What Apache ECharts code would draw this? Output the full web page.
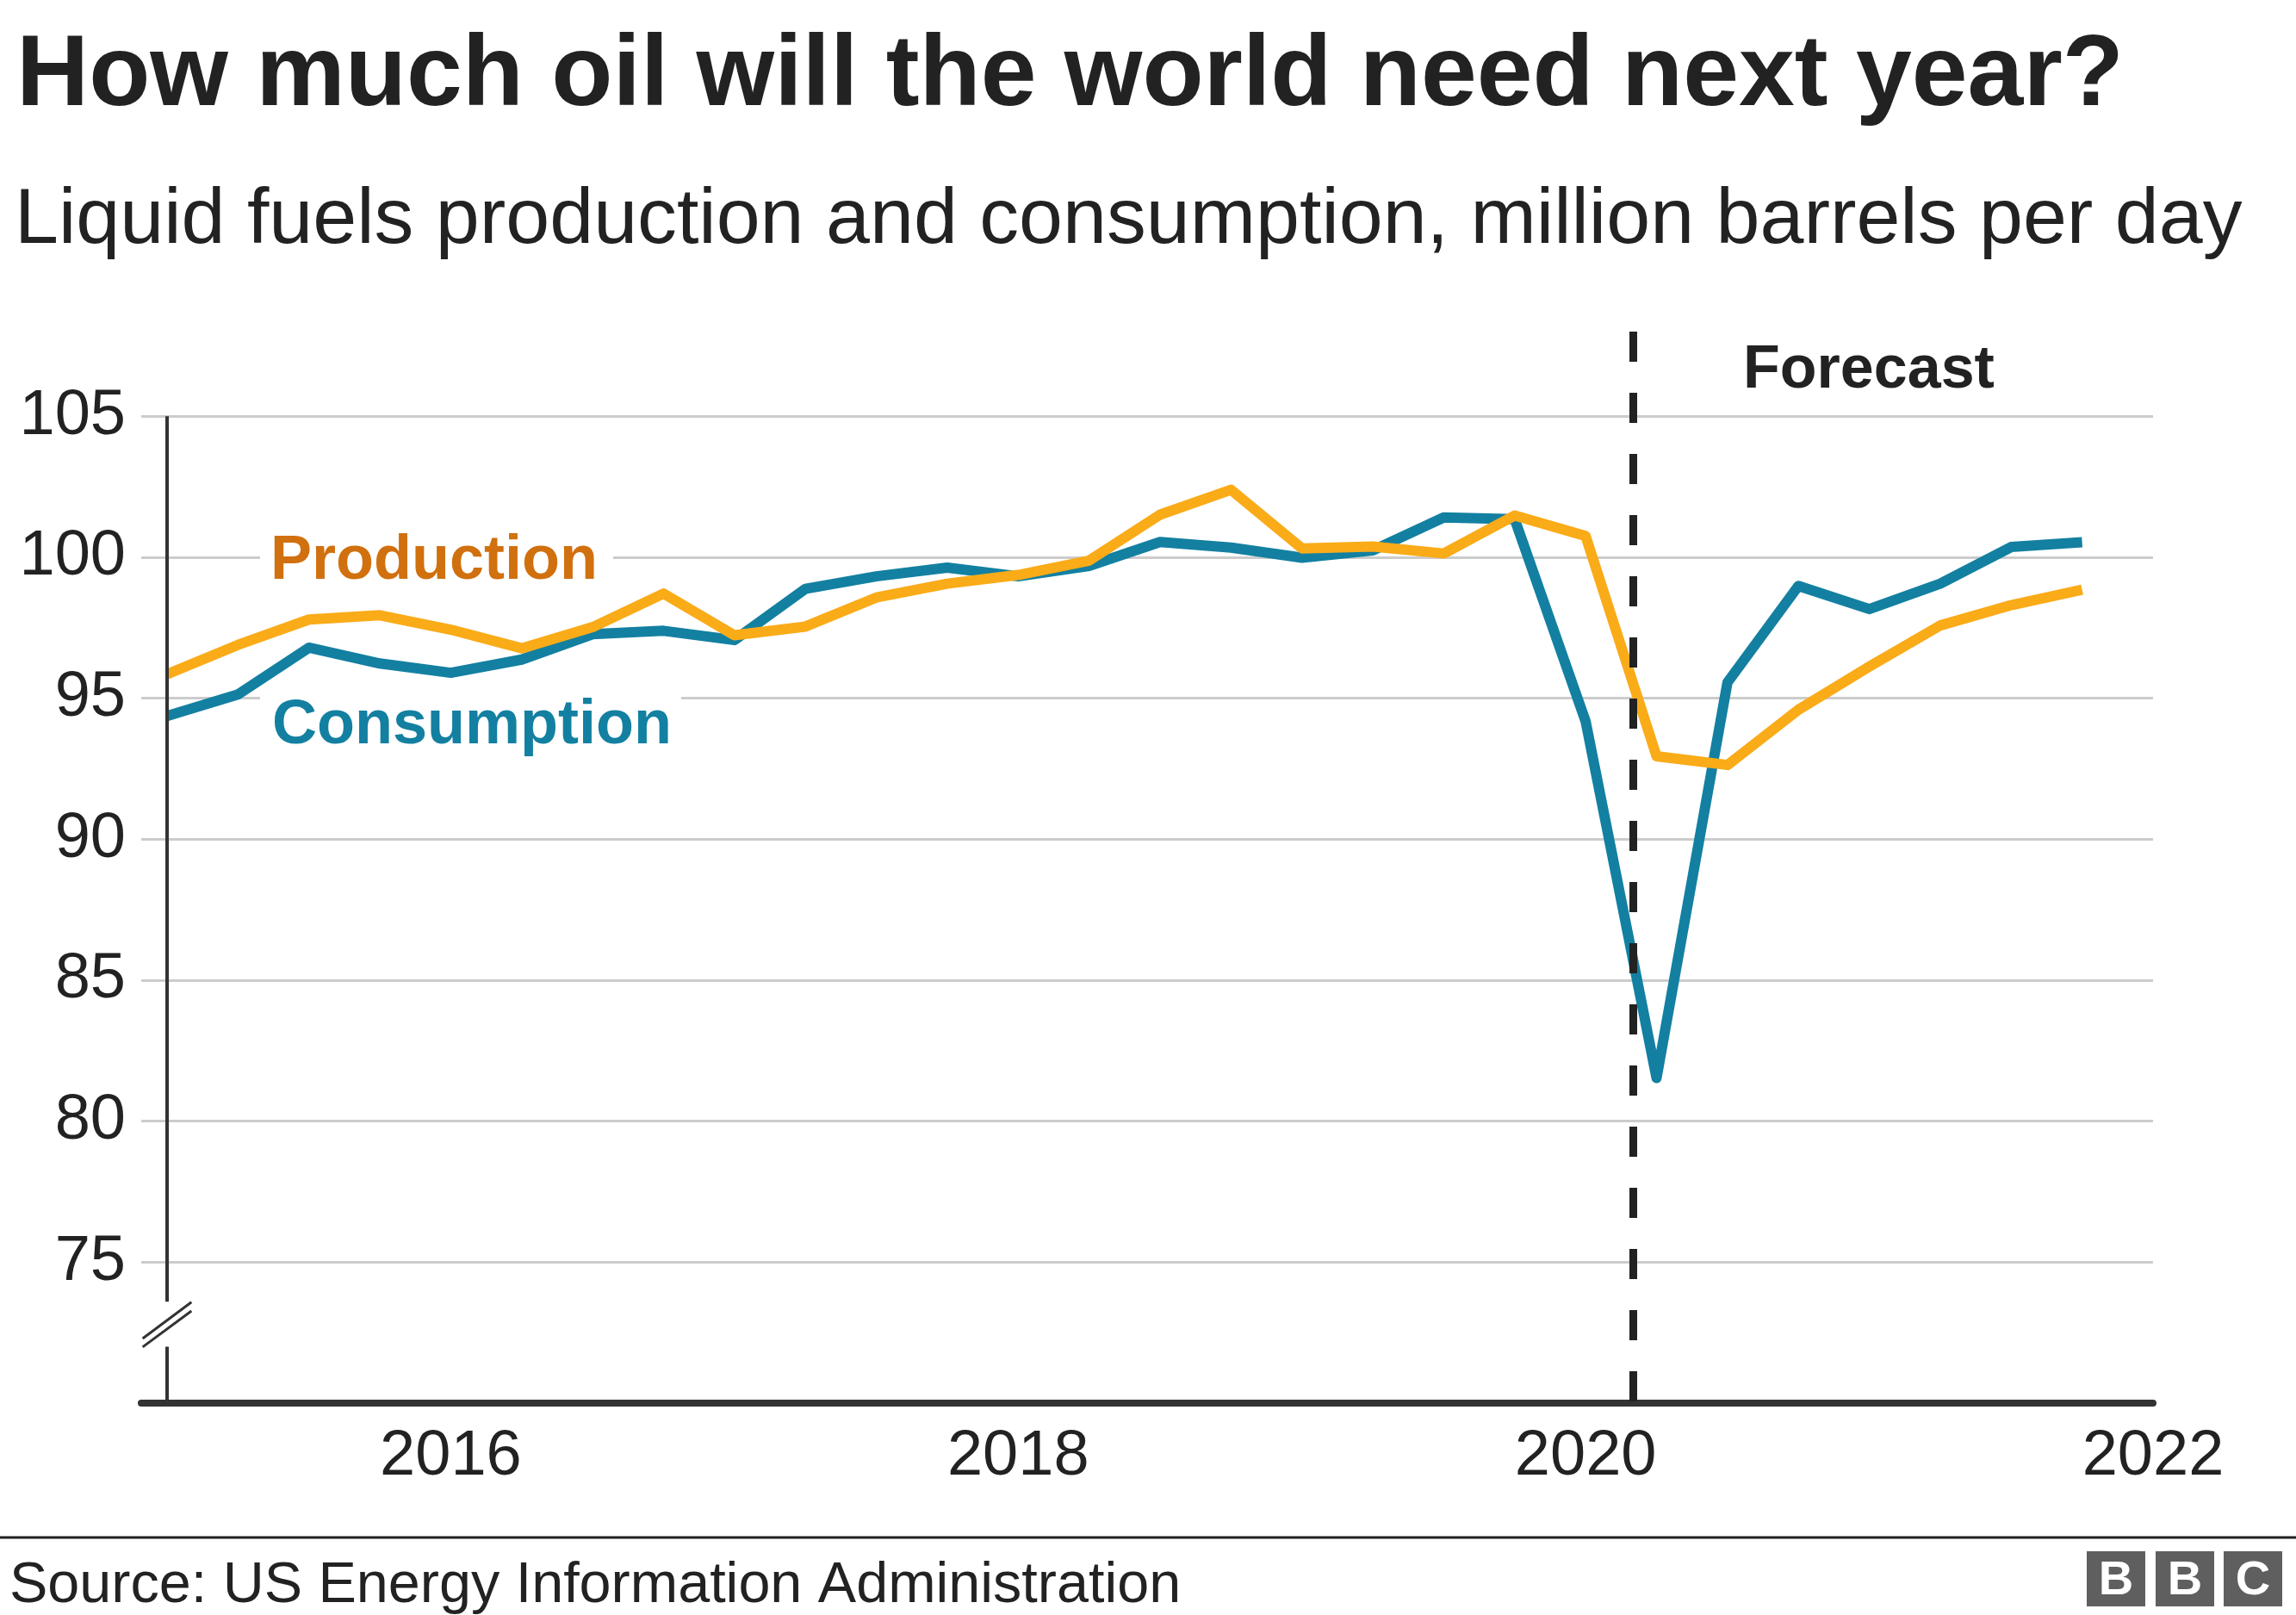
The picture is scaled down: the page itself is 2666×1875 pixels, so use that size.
<!DOCTYPE html>
<html>
<head>
<meta charset="utf-8">
<script src="https://cdn.jsdelivr.net/npm/echarts@6/dist/echarts.min.js"></script>
<style>
html, body { margin: 0; padding: 0; background: #ffffff; }
#chart { width: 2666px; height: 1875px; }
</style>
</head>
<body>
<div id="chart"></div>
<script>
// Quarterly time points (decimal years), 2015 Q1 .. 2021 Q4
const quarters = [
  2015.00, 2015.25, 2015.50, 2015.75,
  2016.00, 2016.25, 2016.50, 2016.75,
  2017.00, 2017.25, 2017.50, 2017.75,
  2018.00, 2018.25, 2018.50, 2018.75,
  2019.00, 2019.25, 2019.50, 2019.75,
  2020.00, 2020.25, 2020.50, 2020.75,
  2021.00, 2021.25, 2021.50, 2021.75
];
// Liquid fuels consumption, million barrels per day
const consumption = [
  94.37, 95.13, 96.79, 96.23,
  95.90, 96.37, 97.27, 97.39,
  97.06, 98.88, 99.32, 99.63,
  99.32, 99.69, 100.54, 100.34,
  99.98, 100.24, 101.41, 101.35,
  94.18, 81.53, 95.56, 98.98,
  98.16, 99.06, 100.36, 100.53
];
// Liquid fuels production, million barrels per day
const production = [
  95.85, 96.89, 97.79, 97.94,
  97.43, 96.77, 97.52, 98.71,
  97.23, 97.54, 98.57, 99.06,
  99.37, 99.88, 101.51, 102.39,
  100.31, 100.38, 100.13, 101.48,
  100.75, 92.94, 92.63, 94.59,
  96.12, 97.58, 98.30, 98.85
];
const yearTicks = [2016, 2018, 2020, 2022];
const valueTicks = [75, 80, 85, 90, 95, 100, 105];
const forecastStart = 2020.167;

const FONT = '"Liberation Sans", Arial, Helvetica, sans-serif';
const TEAL = '#1380A1';
const ORANGE = '#FAAB18';
const DARK = '#222222';

const chart = echarts.init(document.getElementById('chart'), null, { renderer: 'canvas' });

const consumptionData = quarters.map((q, i) => [q, consumption[i]]);
const productionData = quarters.map((q, i) => [q, production[i]]);

const Y_MIN = 70, Y_MAX = 108, Y_TOP_TICK = 105;
const X_MIN = 2014.909, X_MAX = 2022, X_START = 2015;

const option = {
  animation: false,
  backgroundColor: '#ffffff',
  grid: { left: 164, right: 166, top: 385, bottom: 246, containLabel: false },
  xAxis: {
    type: 'value',
    min: X_MIN,
    max: X_MAX,
    axisLine: { show: true, onZero: false, lineStyle: { color: '#333333', width: 8 } },
    axisTick: { show: false, customValues: yearTicks },
    splitLine: { show: false },
    axisLabel: {
      customValues: yearTicks,
      fontSize: 74,
      fontFamily: FONT,
      color: DARK,
      margin: 26,
      formatter: v => String(Math.round(v))
    }
  },
  yAxis: {
    type: 'value',
    min: Y_MIN,
    max: Y_MAX,
    interval: 5,
    axisLine: { show: false },
    axisTick: { show: false, customValues: valueTicks },
    axisLabel: {
      customValues: valueTicks,
      fontSize: 74,
      fontFamily: FONT,
      color: DARK,
      margin: 18
    },
    splitLine: { show: true, lineStyle: { color: '#cccccc', width: 3 } }
  },
  series: [
    {
      name: 'Consumption',
      type: 'line',
      data: consumptionData,
      symbol: 'none',
      silent: true,
      z: 3,
      lineStyle: { color: TEAL, width: 12, join: 'round' }
    },
    {
      name: 'Production',
      type: 'line',
      data: productionData,
      symbol: 'none',
      silent: true,
      z: 4,
      lineStyle: { color: ORANGE, width: 12, join: 'round' },
      markLine: {
        silent: true,
        symbol: ['none', 'none'],
        label: { show: false },
        animation: false,
        z: 6,
        data: [
          [
            { coord: [forecastStart, Y_MAX], lineStyle: { color: DARK, width: 9, type: [35, 36] } },
            { coord: [forecastStart, Y_MIN] }
          ],
          [
            { coord: [X_START, Y_TOP_TICK], lineStyle: { color: '#333333', width: 4, type: 'solid' } },
            { coord: [X_START, 73.6] }
          ],
          [
            { coord: [X_START, 72.0], lineStyle: { color: '#333333', width: 4, type: 'solid' } },
            { coord: [X_START, Y_MIN] }
          ],
          [
            { coord: [2014.914, 72.29], lineStyle: { color: '#333333', width: 3, type: 'solid' } },
            { coord: [2015.086, 73.58] }
          ],
          [
            { coord: [2014.914, 71.99], lineStyle: { color: '#333333', width: 3, type: 'solid' } },
            { coord: [2015.086, 73.27] }
          ]
        ]
      }
    }
  ],
  graphic: [
    {
      type: 'text', x: 19, y: 90, z: 10,
      style: { text: 'How much oil will the world need next year?', font: 'bold 116.5px ' + FONT, fill: DARK, align: 'left', verticalAlign: 'middle' }
    },
    {
      type: 'text', x: 17, y: 257, z: 10,
      style: { text: 'Liquid fuels production and consumption, million barrels per day', font: '91.6px ' + FONT, fill: DARK, align: 'left', verticalAlign: 'middle' }
    },
    {
      type: 'text', x: 2170, y: 431, z: 10,
      style: { text: 'Forecast', font: 'bold 70px ' + FONT, fill: DARK, align: 'center', verticalAlign: 'middle' }
    },
    {
      type: 'text', x: 302, y: 652, z: 1,
      style: { text: 'Production', font: 'bold 72px ' + FONT, fill: '#D1700E', align: 'left', verticalAlign: 'middle', backgroundColor: '#ffffff', padding: [6, 18, 6, 12] }
    },
    {
      type: 'text', x: 302, y: 843, z: 1,
      style: { text: 'Consumption', font: 'bold 72px ' + FONT, fill: TEAL, align: 'left', verticalAlign: 'middle', backgroundColor: '#ffffff', padding: [10, 11, 8, 14] }
    },
    {
      type: 'line', z: 10,
      shape: { x1: 0, y1: 1785, x2: 2666, y2: 1785 },
      style: { stroke: DARK, lineWidth: 3 }
    },
    {
      type: 'text', x: 11, y: 1842, z: 10,
      style: { text: 'Source: US Energy Information Administration', font: '66.5px ' + FONT, fill: DARK, align: 'left', verticalAlign: 'middle' }
    },
    {
      type: 'group', x: 2423, y: 1801, z: 10,
      children: [
        { type: 'rect', shape: { x: 0, y: 0, width: 68, height: 64 }, style: { fill: '#5f5f5f' } },
        { type: 'rect', shape: { x: 80, y: 0, width: 68, height: 64 }, style: { fill: '#5f5f5f' } },
        { type: 'rect', shape: { x: 159, y: 0, width: 68, height: 64 }, style: { fill: '#5f5f5f' } },
        { type: 'text', x: 34, y: 35, style: { text: 'B', font: 'bold 56px ' + FONT, fill: '#ffffff', align: 'center', verticalAlign: 'middle' } },
        { type: 'text', x: 114, y: 35, style: { text: 'B', font: 'bold 56px ' + FONT, fill: '#ffffff', align: 'center', verticalAlign: 'middle' } },
        { type: 'text', x: 193, y: 35, style: { text: 'C', font: 'bold 56px ' + FONT, fill: '#ffffff', align: 'center', verticalAlign: 'middle' } }
      ]
    }
  ]
};

chart.setOption(option);
</script>
</body>
</html>
